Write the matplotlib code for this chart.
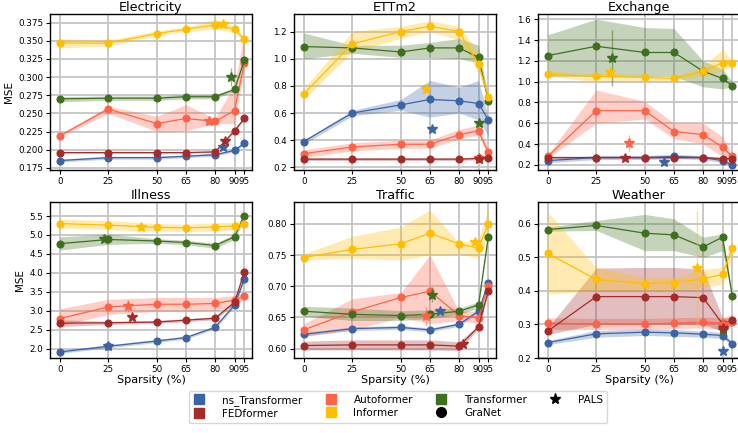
import matplotlib
matplotlib.use("Agg")
import matplotlib.pyplot as plt
from matplotlib.lines import Line2D
import numpy as np

sparsity = [0, 25, 50, 65, 80, 90, 95]
xticklabels = ["0", "25", "50", "65", "80", "90", "95"]
models = ["ns_Transformer", "Autoformer", "Transformer", "FEDformer", "Informer"]
colors = ["#3C64A5", "#FF6347", "#3F7020", "#A52A2A", "#FFBF00"]
datasets = ["Electricity", "ETTm2", "Exchange", "Illness", "Traffic", "Weather"]

# order of rows: ns_Transformer, Autoformer, Transformer, FEDformer, Informer
elec_mean = [[0.185, 0.189, 0.189, 0.191, 0.193, 0.199, 0.209],
             [0.219, 0.256, 0.236, 0.243, 0.239, 0.254, 0.319],
             [0.270, 0.271, 0.271, 0.273, 0.273, 0.283, 0.323],
             [0.196, 0.196, 0.196, 0.196, 0.197, 0.226, 0.243],
             [0.347, 0.347, 0.360, 0.366, 0.372, 0.366, 0.352]]
elec_lo = [[0.183, 0.187, 0.187, 0.189, 0.191, 0.197, 0.207],
           [0.217, 0.250, 0.225, 0.226, 0.236, 0.236, 0.310],
           [0.266, 0.268, 0.268, 0.270, 0.270, 0.281, 0.321],
           [0.195, 0.195, 0.195, 0.195, 0.196, 0.224, 0.241],
           [0.340, 0.343, 0.357, 0.363, 0.366, 0.362, 0.349]]
elec_hi = [[0.187, 0.191, 0.191, 0.193, 0.195, 0.201, 0.211],
           [0.221, 0.260, 0.246, 0.262, 0.243, 0.290, 0.360],
           [0.273, 0.274, 0.274, 0.276, 0.276, 0.285, 0.326],
           [0.197, 0.197, 0.197, 0.197, 0.198, 0.228, 0.245],
           [0.353, 0.351, 0.364, 0.369, 0.380, 0.370, 0.356]]
elec_star_x = [84, 77, 88, 85, 84]
elec_star_y = [0.204, 0.240, 0.300, 0.212, 0.373]
elec_star_err = [0, 0, 0.012, 0, 0.004]

ettm2_mean = [[0.39, 0.60, 0.66, 0.70, 0.69, 0.67, 0.55],
              [0.30, 0.35, 0.37, 0.37, 0.44, 0.47, 0.31],
              [1.09, 1.08, 1.05, 1.08, 1.08, 1.01, 0.69],
              [0.26, 0.26, 0.26, 0.26, 0.26, 0.265, 0.265],
              [0.74, 1.11, 1.20, 1.24, 1.20, 0.96, 0.72]]
ettm2_lo = [[0.37, 0.58, 0.62, 0.57, 0.60, 0.55, 0.43],
            [0.27, 0.32, 0.34, 0.34, 0.41, 0.44, 0.28],
            [1.00, 1.04, 1.01, 1.01, 1.00, 0.97, 0.68],
            [0.25, 0.25, 0.25, 0.25, 0.25, 0.255, 0.255],
            [0.70, 1.05, 1.15, 1.20, 1.14, 0.90, 0.70]]
ettm2_hi = [[0.40, 0.62, 0.70, 0.84, 0.79, 0.84, 0.57],
            [0.33, 0.38, 0.40, 0.40, 0.48, 0.51, 0.33],
            [1.19, 1.10, 1.10, 1.12, 1.15, 1.10, 0.71],
            [0.27, 0.27, 0.27, 0.27, 0.27, 0.275, 0.275],
            [0.78, 1.20, 1.24, 1.28, 1.24, 1.05, 0.75]]
ettm2_star_x = [66, 90, 90, 90, 63]
ettm2_star_y = [0.48, 0.27, 0.53, 0.26, 0.78]
ettm2_star_err = [0, 0, 0, 0, 0]

exch_mean = [[0.24, 0.27, 0.27, 0.28, 0.27, 0.24, 0.20],
             [0.28, 0.72, 0.72, 0.52, 0.49, 0.37, 0.28],
             [1.25, 1.34, 1.28, 1.28, 1.10, 1.03, 0.96],
             [0.27, 0.27, 0.27, 0.27, 0.27, 0.26, 0.26],
             [1.07, 1.05, 1.04, 1.03, 1.10, 1.18, 1.18]]
exch_lo = [[0.22, 0.25, 0.25, 0.26, 0.25, 0.22, 0.19],
           [0.26, 0.60, 0.64, 0.45, 0.40, 0.28, 0.25],
           [1.05, 1.05, 1.05, 1.05, 0.95, 0.93, 0.95],
           [0.26, 0.26, 0.26, 0.26, 0.26, 0.25, 0.25],
           [1.05, 1.00, 1.00, 1.01, 1.05, 1.10, 1.15]]
exch_hi = [[0.26, 0.29, 0.29, 0.30, 0.29, 0.26, 0.21],
           [0.30, 0.92, 0.81, 0.60, 0.60, 0.47, 0.30],
           [1.45, 1.60, 1.52, 1.51, 1.20, 1.12, 1.00],
           [0.28, 0.28, 0.28, 0.28, 0.28, 0.27, 0.27],
           [1.10, 1.08, 1.07, 1.05, 1.15, 1.31, 1.20]]
exch_star_x = [60, 42, 33, 40, 32]
exch_star_y = [0.23, 0.41, 1.23, 0.27, 1.09]
exch_star_err = [0, 0.08, 0.27, 0, 0]

ill_mean = [[1.91, 2.06, 2.20, 2.29, 2.56, 3.15, 3.83],
            [2.79, 3.10, 3.17, 3.17, 3.19, 3.28, 3.39],
            [4.77, 4.88, 4.84, 4.80, 4.72, 4.95, 5.51],
            [2.67, 2.68, 2.70, 2.75, 2.80, 3.22, 4.01],
            [5.30, 5.26, 5.20, 5.19, 5.21, 5.24, 5.30]]
ill_lo = [[1.87, 2.02, 2.16, 2.25, 2.52, 3.10, 3.78],
          [2.60, 2.90, 2.98, 2.98, 3.00, 3.10, 3.30],
          [4.60, 4.75, 4.78, 4.74, 4.65, 4.88, 5.40],
          [2.58, 2.64, 2.66, 2.71, 2.76, 3.18, 3.96],
          [5.18, 5.14, 5.10, 5.09, 5.10, 5.14, 5.20]]
ill_hi = [[1.95, 2.10, 2.24, 2.33, 2.60, 3.20, 3.88],
          [3.05, 3.30, 3.35, 3.35, 3.35, 3.40, 3.45],
          [4.95, 5.02, 4.90, 4.86, 4.78, 5.02, 5.62],
          [2.76, 2.72, 2.74, 2.79, 2.84, 3.26, 4.06],
          [5.42, 5.38, 5.30, 5.29, 5.32, 5.34, 5.40]]
ill_star_x = [25, 35, 23, 37, 42]
ill_star_y = [2.08, 3.12, 4.90, 2.83, 5.22]
ill_star_err = [0, 0.15, 0, 0, 0]

traf_mean = [[0.623, 0.632, 0.634, 0.630, 0.639, 0.660, 0.705],
             [0.630, 0.659, 0.682, 0.692, 0.653, 0.649, 0.701],
             [0.660, 0.655, 0.653, 0.655, 0.660, 0.670, 0.779],
             [0.605, 0.606, 0.606, 0.606, 0.604, 0.635, 0.692],
             [0.746, 0.759, 0.768, 0.785, 0.768, 0.761, 0.800]]
traf_lo = [[0.620, 0.629, 0.631, 0.627, 0.636, 0.657, 0.702],
           [0.620, 0.630, 0.650, 0.640, 0.645, 0.640, 0.690],
           [0.652, 0.645, 0.645, 0.648, 0.655, 0.665, 0.776],
           [0.598, 0.598, 0.598, 0.598, 0.597, 0.632, 0.689],
           [0.742, 0.745, 0.742, 0.750, 0.752, 0.745, 0.780]]
traf_hi = [[0.626, 0.635, 0.637, 0.633, 0.642, 0.663, 0.708],
           [0.640, 0.680, 0.690, 0.750, 0.660, 0.660, 0.710],
           [0.668, 0.665, 0.661, 0.662, 0.665, 0.675, 0.782],
           [0.612, 0.614, 0.614, 0.614, 0.611, 0.638, 0.695],
           [0.752, 0.780, 0.795, 0.822, 0.770, 0.775, 0.825]]
traf_star_x = [70, 63, 66, 82, 88]
traf_star_y = [0.660, 0.652, 0.686, 0.607, 0.771]
traf_star_err = [0, 0.015, 0.012, 0, 0]

weat_mean = [[0.246, 0.272, 0.277, 0.275, 0.271, 0.267, 0.243],
             [0.304, 0.301, 0.301, 0.304, 0.307, 0.304, 0.307],
             [0.583, 0.595, 0.572, 0.567, 0.531, 0.560, 0.385],
             [0.280, 0.383, 0.383, 0.383, 0.380, 0.302, 0.313],
             [0.512, 0.434, 0.422, 0.425, 0.436, 0.449, 0.528]]
weat_lo = [[0.240, 0.262, 0.267, 0.265, 0.262, 0.258, 0.238],
           [0.285, 0.285, 0.285, 0.288, 0.290, 0.285, 0.295],
           [0.578, 0.580, 0.520, 0.520, 0.500, 0.520, 0.380],
           [0.270, 0.300, 0.300, 0.300, 0.300, 0.280, 0.300],
           [0.390, 0.400, 0.400, 0.400, 0.410, 0.420, 0.500]]
weat_hi = [[0.252, 0.282, 0.287, 0.285, 0.280, 0.276, 0.248],
           [0.320, 0.318, 0.318, 0.320, 0.322, 0.320, 0.330],
           [0.590, 0.610, 0.628, 0.615, 0.560, 0.570, 0.390],
           [0.290, 0.468, 0.470, 0.470, 0.465, 0.320, 0.320],
           [0.635, 0.470, 0.440, 0.440, 0.465, 0.470, 0.550]]
weat_star_x = [90, 90, 90, 90, 77]
weat_star_y = [0.220, 0.300, 0.283, 0.290, 0.468]
weat_star_err = [0, 0, 0, 0, 0.17]

panels = [
    (elec_mean, elec_lo, elec_hi, elec_star_x, elec_star_y, elec_star_err, (0.172, 0.387), np.arange(0.175, 0.376, 0.025), "{:.3f}"),
    (ettm2_mean, ettm2_lo, ettm2_hi, ettm2_star_x, ettm2_star_y, ettm2_star_err, (0.18, 1.33), np.arange(0.2, 1.21, 0.2), "{:.1f}"),
    (exch_mean, exch_lo, exch_hi, exch_star_x, exch_star_y, exch_star_err, (0.15, 1.65), np.arange(0.2, 1.61, 0.2), "{:.1f}"),
    (ill_mean, ill_lo, ill_hi, ill_star_x, ill_star_y, ill_star_err, (1.75, 5.87), np.arange(2.0, 5.51, 0.5), "{:.1f}"),
    (traf_mean, traf_lo, traf_hi, traf_star_x, traf_star_y, traf_star_err, (0.585, 0.835), np.arange(0.60, 0.801, 0.05), "{:.2f}"),
    (weat_mean, weat_lo, weat_hi, weat_star_x, weat_star_y, weat_star_err, (0.2, 0.665), np.arange(0.2, 0.61, 0.1), "{:.1f}"),
]

fig = plt.figure(figsize=(7.38, 4.33), dpi=100)
W, H = 738.0, 433.0
lefts = [50, 294, 538]
width = 202
tops = [14, 202]
height = 156

for i, (name, p) in enumerate(zip(datasets, panels)):
    mean, lo, hi, sx, sy, se, ylim, yt, fmt = p
    r, c = divmod(i, 3)
    ax = fig.add_axes([lefts[c] / W, 1 - (tops[r] + height) / H, width / W, height / H])
    ax.grid(True, color="#c4c4c4", linewidth=1.3, zorder=0)
    ax.set_axisbelow(True)
    for k in range(5):
        col = colors[k]
        ax.fill_between(sparsity, lo[k], hi[k], color=col, alpha=0.3, linewidth=0, zorder=1)
        ax.plot(sparsity, mean[k], color=col, linewidth=0.9, marker="o", markersize=4.8, zorder=3)
        if se[k] > 0:
            ax.errorbar(sx[k], sy[k], yerr=se[k], color=col, alpha=0.5, linewidth=1.0, zorder=3)
        ax.plot(sx[k], sy[k], color=col, marker="*", markersize=7, linestyle="", zorder=4)
    ax.set_xlim(-5, 99)
    ax.set_ylim(*ylim)
    ax.set_xticks(sparsity)
    ax.set_xticklabels(xticklabels)
    ax.set_yticks(yt)
    ax.set_yticklabels([fmt.format(v) for v in yt])
    ax.tick_params(labelsize=6.3, length=3, pad=2)
    for s in ax.spines.values():
        s.set_color("black")
        s.set_linewidth(1.0)
    ax.set_title(name, fontsize=9.2, pad=2)
    if c == 0:
        ax.set_ylabel("MSE", fontsize=7.5, labelpad=3)
    if r == 1:
        ax.set_xlabel("Sparsity (%)", fontsize=8.1, labelpad=1)

handles = [
    Line2D([], [], marker="s", color=colors[0], linestyle="", markersize=7, label="ns_Transformer"),
    Line2D([], [], marker="s", color=colors[3], linestyle="", markersize=7, label="FEDformer"),
    Line2D([], [], marker="s", color=colors[1], linestyle="", markersize=7, label="Autoformer"),
    Line2D([], [], marker="s", color=colors[4], linestyle="", markersize=7, label="Informer"),
    Line2D([], [], marker="s", color=colors[2], linestyle="", markersize=7, label="Transformer"),
    Line2D([], [], marker="o", color="black", linestyle="", markersize=7, label="GraNet"),
    Line2D([], [], marker="*", color="black", linestyle="", markersize=8, label="PALS"),
]
leg = fig.legend(handles=handles, ncol=4, loc="lower center", bbox_to_anchor=(398 / W, 5 / H),
                 fontsize=7.5, frameon=True, columnspacing=2.1, handletextpad=1.6,
                 borderpad=0.4, labelspacing=0.25, handlelength=1.2)
leg.get_frame().set_edgecolor("#cccccc")

fig.savefig("out.png", dpi=100)
